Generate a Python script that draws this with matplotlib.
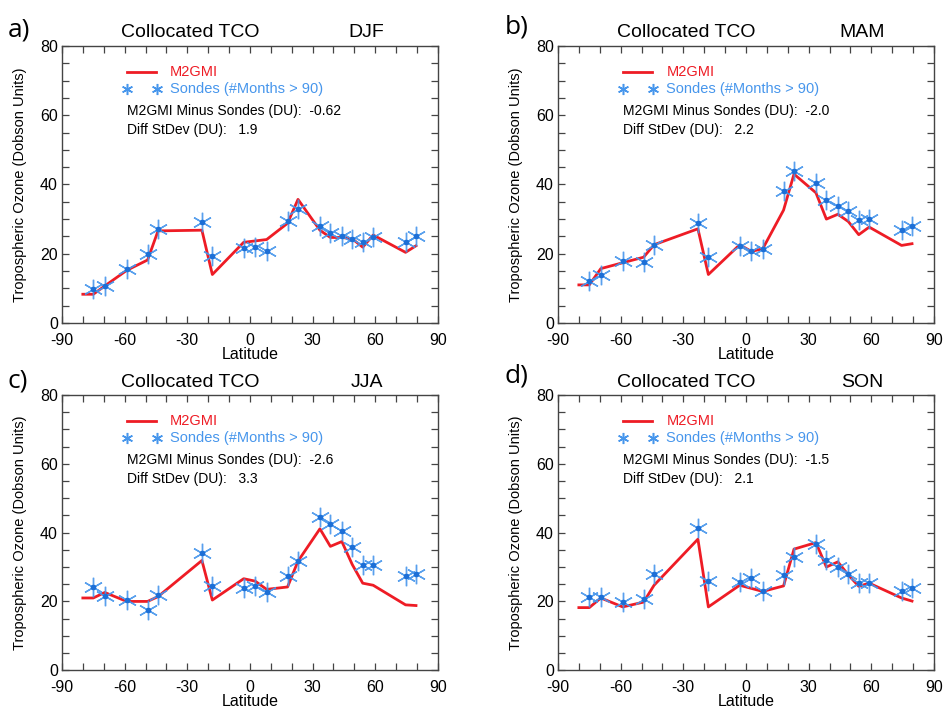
import matplotlib.pyplot as plt
from matplotlib.ticker import MultipleLocator

plt.rcParams['font.family'] = ['Liberation Sans', 'DejaVu Sans']
plt.rcParams['axes.unicode_minus'] = False

# station latitudes (sondes) and model latitudes
sonde_lat = [-75, -69.5, -59, -49, -44, -23, -18, -3, 2.5, 8,
             18, 23, 33.5, 38.5, 44, 49, 54, 59, 74.5, 79.5]
model_lat = [-80] + sonde_lat

# M2GMI (red line) per season
djf_model = [8.3, 8.3, 10.7, 15.2, 18.2, 26.6, 26.8, 14.0, 23.3, 23.7, 24.1,
             28.8, 35.7, 26.8, 24.7, 24.7, 24.3, 21.9, 25.4, 20.4, 22.3]
mam_model = [11.0, 11.0, 15.7, 17.4, 19.0, 22.6, 27.2, 14.0, 22.6, 20.7, 21.4,
             32.6, 43.0, 37.6, 30.0, 31.4, 29.3, 25.5, 27.7, 22.4, 22.9]
jja_model = [21.0, 21.0, 22.6, 20.0, 20.0, 21.4, 31.9, 20.4, 26.6, 25.9, 23.5,
             24.2, 31.7, 41.1, 36.0, 37.4, 30.7, 25.3, 24.7, 19.0, 18.8]
son_model = [18.2, 18.2, 21.0, 18.4, 19.8, 24.7, 38.1, 18.4, 24.7, 23.8, 22.9,
             24.5, 35.2, 37.1, 30.0, 31.5, 27.7, 24.4, 25.3, 21.0, 20.1]

# Sondes (blue asterisks) per season
djf_sonde = [9.9, 10.7, 15.7, 20.0, 27.1, 29.2, 19.3, 21.6, 21.9, 20.9,
             29.5, 32.8, 27.9, 25.9, 25.2, 24.3, 23.3, 24.9, 23.3, 25.0]
mam_sonde = [12.2, 14.0, 17.8, 17.6, 22.4, 29.0, 19.0, 22.3, 20.7, 21.4,
             38.2, 43.8, 40.5, 35.5, 33.9, 32.2, 29.8, 30.0, 26.9, 28.1]
jja_sonde = [24.2, 21.6, 20.4, 17.6, 21.8, 34.1, 24.5, 24.0, 24.5, 22.6,
             27.4, 31.7, 44.6, 42.5, 40.5, 35.7, 30.5, 30.5, 27.4, 28.1]
son_sonde = [21.4, 21.4, 19.8, 20.8, 28.1, 41.3, 26.0, 25.7, 26.9, 22.9,
             27.7, 32.9, 36.6, 32.1, 30.0, 28.1, 25.3, 25.3, 22.9, 23.8]

panel_labels = ['a)', 'b)', 'c)', 'd)']
seasons = ['DJF', 'MAM', 'JJA', 'SON']
mean_diff = ['-0.62', '-2.0', '-2.6', '-1.5']
std_diff = ['1.9', '2.2', '3.3', '2.1']
models = [djf_model, mam_model, jja_model, son_model]
sondes = [djf_sonde, mam_sonde, jja_sonde, son_sonde]

red = '#ee1c25'
blue = '#4796ec'
star = (6, 2, 0)

fig = plt.figure(figsize=(9.43, 7.13), dpi=100)
boxes = [[0.0657, 0.547, 0.3987, 0.3885],
         [0.5917, 0.547, 0.3987, 0.3885],
         [0.0657, 0.06, 0.3987, 0.386],
         [0.5917, 0.06, 0.3987, 0.386]]
label_pos = [(0.008, 0.958), (0.535, 0.962), (0.008, 0.466), (0.535, 0.473)]

for i in range(4):
    ax = fig.add_axes(boxes[i])
    ax.plot(model_lat, models[i], color=red, lw=2)
    ax.plot(sonde_lat, sondes[i], ls='none', marker=star, ms=14,
            mec=blue, mew=1.0, alpha=0.9)
    ax.plot(sonde_lat, sondes[i], ls='none', marker='o', ms=3,
            color='#1d6fd6')

    ax.set_xlim(-90, 90)
    ax.set_ylim(0, 80)
    ax.xaxis.set_major_locator(MultipleLocator(30))
    ax.xaxis.set_minor_locator(MultipleLocator(10))
    ax.yaxis.set_major_locator(MultipleLocator(20))
    ax.yaxis.set_minor_locator(MultipleLocator(5))
    ax.tick_params(which='both', direction='in', top=True, right=True,
                   length=5, width=0.9, color='#444444', labelsize=11.5)
    ax.tick_params(axis='x', pad=7)
    ax.tick_params(axis='y', pad=3)
    for s in ax.spines.values():
        s.set_color('#444444')
        s.set_linewidth(1.0)

    ax.set_xlabel('Latitude', fontsize=11.5)
    ax.xaxis.set_label_coords(0.5, -0.088)
    ax.set_ylabel('Tropospheric Ozone (Dobson Units)', fontsize=10.5)
    ax.yaxis.set_label_coords(-0.092, 0.5)

    # titles
    ax.text(0.34, 1.047, 'Collocated TCO', transform=ax.transAxes,
            ha='center', va='center', fontsize=14)
    ax.text(0.81, 1.047, seasons[i], transform=ax.transAxes,
            ha='center', va='center', fontsize=14)

    # legend-like annotations
    ax.plot([0.172, 0.25], [0.906, 0.906], transform=ax.transAxes,
            color=red, lw=2)
    ax.text(0.288, 0.906, 'M2GMI', transform=ax.transAxes, color=red,
            ha='left', va='center', fontsize=10.5)
    ax.plot([0.172, 0.252], [0.843, 0.843], transform=ax.transAxes,
            ls='none', marker=star, ms=8, mec=blue, mew=1.1)
    ax.text(0.288, 0.843, 'Sondes (#Months > 90)', transform=ax.transAxes,
            color=blue, ha='left', va='center', fontsize=10.5)
    ax.text(0.172, 0.765, 'M2GMI Minus Sondes (DU):  ' + mean_diff[i],
            transform=ax.transAxes, ha='left', va='center', fontsize=10)
    ax.text(0.172, 0.695, 'Diff StDev (DU):   ' + std_diff[i],
            transform=ax.transAxes, ha='left', va='center', fontsize=10)

    fig.text(label_pos[i][0], label_pos[i][1], panel_labels[i],
             fontsize=19, family='Open Sans', va='center', ha='left')

fig.savefig('out.png', dpi=100)
